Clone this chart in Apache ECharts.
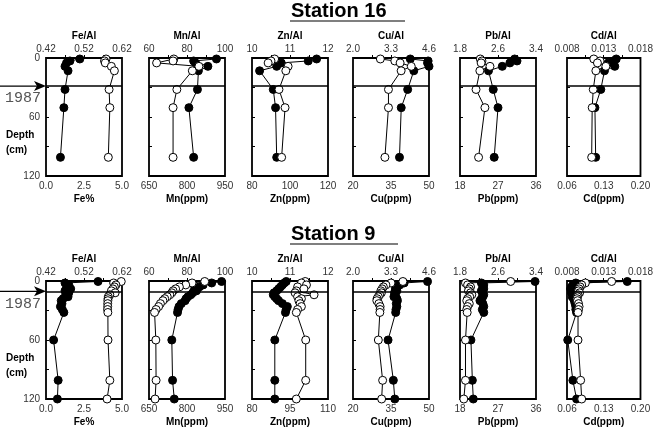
<!DOCTYPE html>
<html>
<head>
<meta charset="utf-8">
<script src="https://cdn.jsdelivr.net/npm/echarts@6/dist/echarts.min.js"></script>
<style>
html, body { margin: 0; padding: 0; background: #fff; }
#chart { width: 656px; height: 431px; }
</style>
</head>
<body>
<div id="chart"></div>
<script>
// sample depths (cm)
const depth16 = [1, 3, 5, 8.5, 13, 32, 50.5, 101];
const depth9 = [0.5, 2, 4, 6, 8, 10, 12, 14, 16, 18, 20, 23, 26, 29, 32, 60, 101, 120];
const year1987Depth16 = 28.5;
const year1987Depth9 = 10.5;

// Station 16 : filled = X/Al (top axis), open = concentration (bottom axis)
const feAl16 = [0.509, 0.483, 0.474, 0.470, 0.478, 0.470, 0.467, 0.458];
const fe16 = [3.95, 3.85, 3.9, 4.3, 4.5, 4.15, 4.2, 4.1];
const mnAl16 = [95.5, 83.5, 84.5, 91, 86, 85.5, 81, 83.5];
const mn16 = [748, 745, 680, 847, 821, 760, 745, 745];
const znAl16 = [11.7, 11.48, 10.77, 10.65, 10.2, 10.56, 10.62, 10.65];
const zn16 = [91.9, 90, 88.5, 99, 97.8, 94.2, 97.4, 95.6];
const cuAl16 = [3.96, 4.57, 4.55, 4.6, 4.08, 3.87, 3.65, 3.59];
const cu16 = [30.8, 36.5, 38.6, 43, 39, 34, 34, 32.6];
const pbAl16 = [2.95, 3.0, 2.85, 2.69, 2.4, 2.5, 2.6, 2.52];
const pb16 = [22.8, 23.2, 23.0, 25.1, 22.7, 21.8, 23.9, 22.4];
const cdAl16 = [0.0147, 0.0143, 0.0136, 0.0145, 0.0131, 0.0126, 0.0118, 0.0119];
const cd16 = [0.111, 0.123, 0.118, 0.134, 0.115, 0.110, 0.108, 0.107];

// Station 9
const feAl9 = [0.557, 0.470, 0.480, 0.475, 0.485, 0.470, 0.480, 0.472, 0.478, 0.465, 0.460, 0.462, 0.458, 0.463, 0.467, 0.440, 0.452, 0.450];
const fe9 = [4.95, 4.45, 4.6, 4.5, 4.4, 4.3, 4.55, 4.2, 4.1, 4.08, 4.07, 4.06, 4.06, 4.05, 4.07, 4.08, 4.2, 4.02];
const mnAl9 = [98.2, 93, 88.5, 86.5, 84, 85, 83, 82, 80.5, 79.5, 79, 77, 75.8, 75.3, 75, 72, 72.4, 73.3];
const mn9 = [870, 820, 795, 770, 755, 745, 740, 732, 722, 712, 705, 695, 688, 678, 672, 677, 678, 674];
const znAl9 = [10.9, 10.85, 10.8, 10.75, 10.7, 10.65, 10.58, 10.56, 10.6, 10.65, 10.7, 10.8, 10.93, 10.9, 10.88, 10.6, 10.6, 10.6];
const zn9 = [101, 99.5, 101.5, 98, 100.5, 97.5, 97, 104.5, 98, 99.5, 98.5, 99, 99.5, 98, 97.5, 101.2, 101.2, 97.5];
const cuAl9 = [4.55, 3.75, 3.6, 3.5, 3.45, 3.5, 3.42, 3.45, 3.4, 3.5, 3.52, 3.48, 3.5, 3.47, 3.46, 3.2, 3.38, 3.43];
const cu9 = [39.7, 35, 33, 32, 31.5, 31, 31.2, 30.5, 30, 29.5, 29.4, 30.2, 30.7, 30.7, 30.6, 30, 31.7, 31.3];
const pbAl9 = [3.38, 2.25, 2.3, 2.28, 2.3, 2.25, 2.27, 2.3, 2.28, 2.25, 2.22, 2.28, 2.3, 2.27, 2.3, 2.03, 2.06, 2.08];
const pb9 = [30, 19.3, 19.8, 20.5, 20.2, 20, 20.5, 20.8, 20.3, 19.8, 19.6, 20.2, 19.8, 19.6, 19.7, 19.3, 19.3, 18.9];
const cdAl9 = [0.0162, 0.0092, 0.0088, 0.0086, 0.0085, 0.0087, 0.0086, 0.0088, 0.0087, 0.0089, 0.0090, 0.0091, 0.0092, 0.0092, 0.0093, 0.0081, 0.0088, 0.0093];
const cd9 = [0.145, 0.095, 0.088, 0.085, 0.083, 0.082, 0.084, 0.081, 0.080, 0.079, 0.080, 0.082, 0.083, 0.082, 0.081, 0.081, 0.086, 0.088];

// axes
const ratioNames = ['Fe/Al', 'Mn/Al', 'Zn/Al', 'Cu/Al', 'Pb/Al', 'Cd/Al'];
const concNames = ['Fe%', 'Mn(ppm)', 'Zn(ppm)', 'Cu(ppm)', 'Pb(ppm)', 'Cd(ppm)'];
const ratioTicks = [[0.42, 0.52, 0.62], [60, 80, 100], [10, 11, 12], [2.0, 3.3, 4.6], [1.8, 2.6, 3.4], [0.008, 0.013, 0.018]];
const concTicks16 = [[0, 2.5, 5], [650, 800, 950], [80, 100, 120], [20, 35, 50], [18, 27, 36], [0.06, 0.13, 0.20]];
const concTicks9 = [[0, 2.5, 5], [650, 800, 950], [80, 95, 110], [20, 35, 50], [18, 27, 36], [0.06, 0.13, 0.20]];
const ratioDecimals = [2, 0, 0, 1, 1, 3];
const concDecimals = [1, 0, 0, 0, 0, 2];
const depthLabels = [0, 60, 120];
const depthTicks = [30, 60, 90];

const stations = [
  { top: 58, yearDepth: year1987Depth16, depth: depth16, conc: concTicks16,
    ratio: [feAl16, mnAl16, znAl16, cuAl16, pbAl16, cdAl16], values: [fe16, mn16, zn16, cu16, pb16, cd16] },
  { top: 281, yearDepth: year1987Depth9, depth: depth9, conc: concTicks9,
    ratio: [feAl9, mnAl9, znAl9, cuAl9, pbAl9, cdAl9], values: [fe9, mn9, zn9, cu9, pb9, cd9] }
];
const lefts = [46, 149, 252, 353, 460, 567];
const W = 76, H = 118;
const font = 'Arial, "Liberation Sans", sans-serif';

const grid = [], xAxis = [], yAxis = [], series = [];
stations.forEach((st, s) => {
  lefts.forEach((left, p) => {
    const g = grid.length;
    grid.push({ left: left, top: st.top, width: W, height: H, show: true,
      borderColor: '#000', borderWidth: 1.8, backgroundColor: 'transparent' });
    const ct = st.conc[p], rt = ratioTicks[p];
    const quarter = (ct[2] - ct[0]) / 4;
    xAxis.push({
      type: 'value', gridIndex: g, position: 'bottom', min: ct[0], max: ct[2],
      name: concNames[p], nameLocation: 'middle', nameGap: 18,
      nameTextStyle: { fontFamily: font, fontWeight: 'bold', fontSize: 10, color: '#000' },
      axisLine: { show: false }, splitLine: { show: false },
      axisTick: { show: true, inside: true, length: 3, lineStyle: { color: '#000' },
        customValues: [ct[0] + quarter, ct[1], ct[0] + 3 * quarter] },
      axisLabel: { customValues: ct, margin: 5, fontFamily: font, fontSize: 10, color: '#333',
        formatter: v => v.toFixed(concDecimals[p]) }
    });
    xAxis.push({
      type: 'value', gridIndex: g, position: 'top', min: rt[0], max: rt[2],
      name: ratioNames[p], nameLocation: 'middle', nameGap: 17,
      nameTextStyle: { fontFamily: font, fontWeight: 'bold', fontSize: 10, color: '#000' },
      axisLine: { show: false }, splitLine: { show: false }, axisTick: { show: false },
      axisLabel: { customValues: rt, margin: 4, fontFamily: font, fontSize: 10, color: '#333',
        formatter: v => v.toFixed(ratioDecimals[p]) }
    });
    yAxis.push({
      type: 'value', gridIndex: g, inverse: true, min: 0, max: 120,
      axisLine: { show: false }, splitLine: { show: false },
      axisTick: { show: true, inside: true, length: 3, lineStyle: { color: '#000' }, customValues: depthTicks },
      axisLabel: { show: p === 0, customValues: depthLabels, margin: 6, fontFamily: font, fontSize: 10, color: '#333' }
    });
    series.push({
      type: 'line', xAxisIndex: 2 * g + 1, yAxisIndex: g,
      data: st.depth.map((d, i) => [st.ratio[p][i], d]),
      symbol: 'circle', symbolSize: 8, showSymbol: true,
      lineStyle: { color: '#000', width: 1 },
      itemStyle: { color: '#000', borderColor: '#000', borderWidth: 1 },
      markLine: { silent: true, symbol: 'none', label: { show: false },
        lineStyle: { color: '#000', width: 1.6, type: 'solid' },
        data: [{ yAxis: st.yearDepth }] },
      animation: false, z: 3
    });
    series.push({
      type: 'line', xAxisIndex: 2 * g, yAxisIndex: g,
      data: st.depth.map((d, i) => [st.values[p][i], d]),
      symbol: 'circle', symbolSize: 8, showSymbol: true,
      lineStyle: { color: '#000', width: 1 },
      itemStyle: { color: '#fff', borderColor: '#000', borderWidth: 1 },
      animation: false, z: 4
    });
  });
});

const chart = echarts.init(document.getElementById('chart'), null, { renderer: 'canvas' });
chart.setOption({ animation: false, grid, xAxis, yAxis, series });

// titles, depth label, 1987 arrows
const graphic = [];
const titles = [{ text: 'Station 16', y: 1, line: 21, x2: 405 }, { text: 'Station 9', y: 224, line: 244, x2: 398 }];
titles.forEach(t => {
  graphic.push({ type: 'text', left: 291, top: t.y,
    style: { text: t.text, font: 'bold 20px ' + font, fill: '#000' } });
  graphic.push({ type: 'line', shape: { x1: 290, y1: t.line, x2: t.x2, y2: t.line }, style: { stroke: '#000', lineWidth: 1.2 } });
});
stations.forEach((st, s) => {
  const yy = chart.convertToPixel({ yAxisIndex: s * 6 }, st.yearDepth);
  graphic.push({ type: 'line', shape: { x1: 0, y1: yy, x2: 40, y2: yy }, style: { stroke: '#000', lineWidth: 1.2 } });
  graphic.push({ type: 'polygon', shape: { points: [[34, yy - 5], [46, yy], [34, yy + 5], [37, yy]] }, style: { fill: '#000' } });
  graphic.push({ type: 'text', x: 5, y: yy + 5, style: { text: '1987', font: '15px "Liberation Mono", "DejaVu Sans Mono", monospace', fill: '#555' } });
  graphic.push({ type: 'text', x: 6, y: st.top + 70, style: { text: 'Depth\n(cm)', font: 'bold 10px ' + font, fill: '#000', lineHeight: 15 } });
});
chart.setOption({ graphic });
</script>
</body>
</html>
